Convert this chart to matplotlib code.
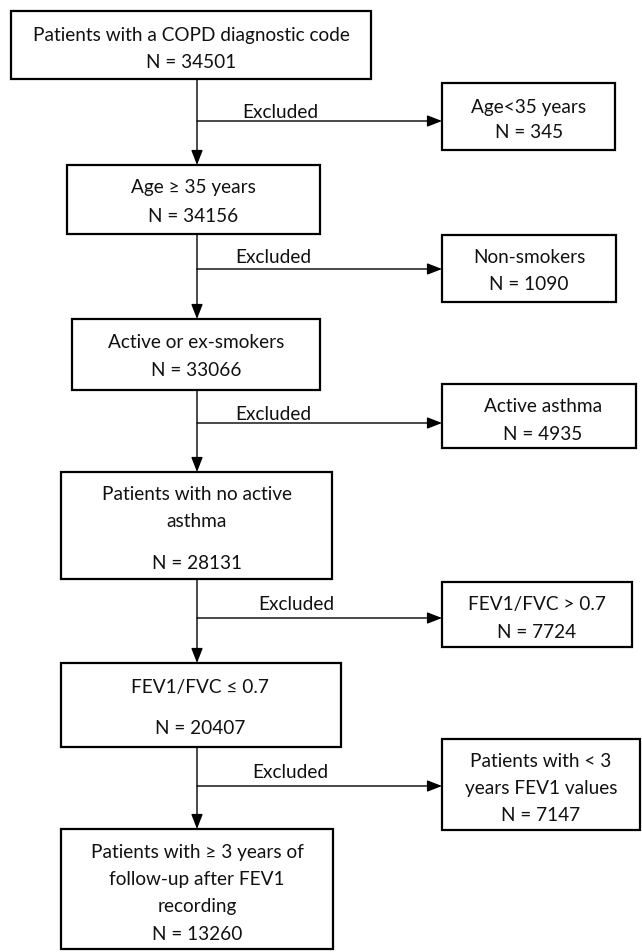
import matplotlib.pyplot as plt
from matplotlib.patches import Rectangle

# Contenido del diagrama
main_labels = [
    "Patients with a COPD diagnostic code",
    "Age \u2265 35 years",
    "Active or ex-smokers",
    "Patients with no active\nasthma",
    "FEV1/FVC \u2264 0.7",
    "Patients with \u2265 3 years of\nfollow-up after FEV1\nrecording",
]
main_n = [34501, 34156, 33066, 28131, 20407, 13260]

excl_labels = [
    "Age<35 years",
    "Non-smokers",
    "Active asthma",
    "FEV1/FVC > 0.7",
    "Patients with < 3\nyears FEV1 values",
]
excl_n = [345, 1090, 4935, 7724, 7147]

# Geometría (píxeles, y hacia abajo)
main_boxes = [(11, 12, 371, 80), (67, 166, 320, 235), (72, 320, 320, 391),
              (61, 473, 332, 580), (61, 664, 341, 748), (61, 830, 333, 950)]
main_cx = [191, 193, 196, 197, 200, 197]
main_ty = [[35, 62], [188, 216], [343, 371], [495, 522, 564],
           [688, 729], [853, 880, 907, 935]]
excl_boxes = [(442, 84, 615, 151), (442, 236, 616, 303), (442, 385, 636, 449),
              (442, 583, 632, 648), (442, 740, 640, 831)]
excl_cx = [529, 529, 543, 537, 541]
excl_ty = [[107, 133], [258, 285], [407, 435], [605, 633], [762, 789, 816]]
branch_y = [122, 270, 424, 619, 787]
excl_text_x = [242, 235, 235, 258, 252]
excl_text_y = [112, 258, 415, 605, 773]
line_x = 197
fs = 13.7

plt.rcParams['font.family'] = ['Lato', 'DejaVu Sans']
fig = plt.figure(figsize=(6.42, 9.53), dpi=100)
ax = fig.add_axes([0, 0, 1, 1])
ax.set_xlim(0, 642)
ax.set_ylim(953, 0)
ax.axis('off')


def box(b, lines, cx, ys):
    x0, y0, x1, y1 = b
    ax.add_patch(Rectangle((x0, y0), x1 - x0, y1 - y0, fill=False,
                           edgecolor='black', linewidth=1.6))
    for t, y in zip(lines, ys):
        ax.text(cx, y, t, ha='center', va='center', fontsize=fs,
                color='#111111')


for i in range(len(main_labels)):
    lines = main_labels[i].split("\n") + [f"N = {main_n[i]}"]
    box(main_boxes[i], lines, main_cx[i], main_ty[i])

for i in range(len(excl_labels)):
    lines = excl_labels[i].split("\n") + [f"N = {excl_n[i]}"]
    box(excl_boxes[i], lines, excl_cx[i], excl_ty[i])

arrow = dict(arrowstyle='-|>,head_length=0.9,head_width=0.35',
             color='black', lw=1.0, shrinkA=0, shrinkB=0)
for i in range(len(excl_labels)):
    y_top = main_boxes[i][3]
    y_next = main_boxes[i + 1][1]
    ax.annotate('', xy=(line_x, y_next), xytext=(line_x, y_top),
                arrowprops=arrow)
    ax.annotate('', xy=(excl_boxes[i][0], branch_y[i]),
                xytext=(line_x, branch_y[i]), arrowprops=arrow)
    ax.text(excl_text_x[i], excl_text_y[i], "Excluded", ha='left',
            va='center', fontsize=fs, color='#111111')

fig.savefig('out.png', dpi=100)
